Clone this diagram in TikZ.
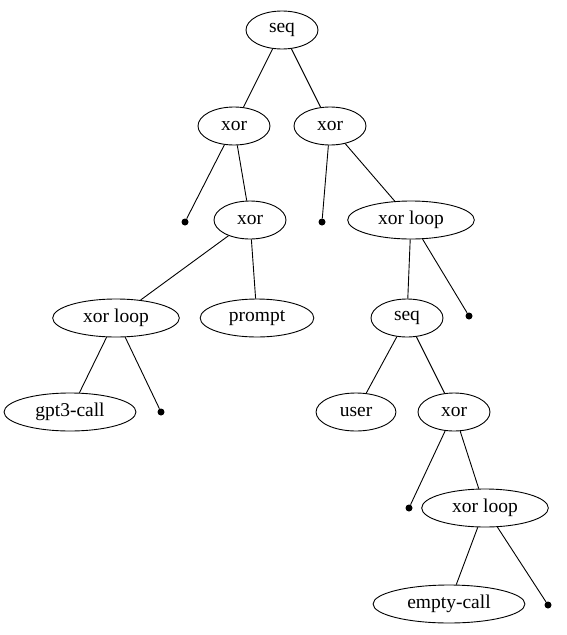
\documentclass[tikz,border=0pt]{standalone}
\usepackage{fontspec}
\setmainfont{Liberation Serif}
\usetikzlibrary{shapes.geometric}
\begin{document}
\begin{tikzpicture}[x=1pt,y=-1pt,font=\fontsize{19.5}{22}\selectfont]
        \tikzstyle{op}=[ellipse,draw=black,line width=0.9pt,minimum width=72pt,minimum height=38pt,inner xsep=12pt,inner ysep=1pt]
        \tikzstyle{leaf}=[circle,fill=black,inner sep=0pt,minimum size=7pt]
        \tikzstyle{edge}=[draw,line width=0.9pt]
        \useasboundingbox (0,0) rectangle (567,635);
       \begin{scope}
         \node [op] (seqA) at (282,30) {seq};
         \node [op] (xorA) at (234,126) {xor};
         \node [op] (xorB) at (330,126) {xor};
         \node [leaf] (d1) at (185,222) {};
         \node [op] (xorC) at (250,220) {xor};
         \node [leaf] (d2) at (322,222) {};
         \node [op] (loopA) at (411,220) {xor loop};
         \node [op] (loopB) at (116,318) {xor loop};
         \node [op] (prompt) at (257,318) {prompt};
         \node [op] (seqB) at (407,318) {seq};
         \node [leaf] (d3) at (469,316) {};
         \node [op] (gpt) at (70,412) {gpt3-call};
         \node [leaf] (d4) at (161,412) {};
         \node [op] (user) at (356,412) {user};
         \node [op] (xorD) at (454,412) {xor};
         \node [leaf] (d5) at (409,508) {};
         \node [op] (loopC) at (485,508) {xor loop};
         \node [op] (empty) at (449,604) {empty-call};
         \node [leaf] (d6) at (548,605) {};

         \path[edge] (seqA) edge (xorA);
         \path[edge] (seqA) edge (xorB);
         \path[edge] (xorA) edge (d1);
         \path[edge] (xorA) edge (xorC);
         \path[edge] (xorB) edge (d2);
         \path[edge] (xorB) edge (loopA);
         \path[edge] (xorC) edge (loopB);
         \path[edge] (xorC) edge (prompt);
         \path[edge] (loopA) edge (seqB);
         \path[edge] (loopA) edge (d3);
         \path[edge] (loopB) edge (gpt);
         \path[edge] (loopB) edge (d4);
         \path[edge] (seqB) edge (user);
         \path[edge] (seqB) edge (xorD);
         \path[edge] (xorD) edge (d5);
         \path[edge] (xorD) edge (loopC);
         \path[edge] (loopC) edge (empty);
         \path[edge] (loopC) edge (d6);
        \end{scope}
      \end{tikzpicture}
\end{document}
